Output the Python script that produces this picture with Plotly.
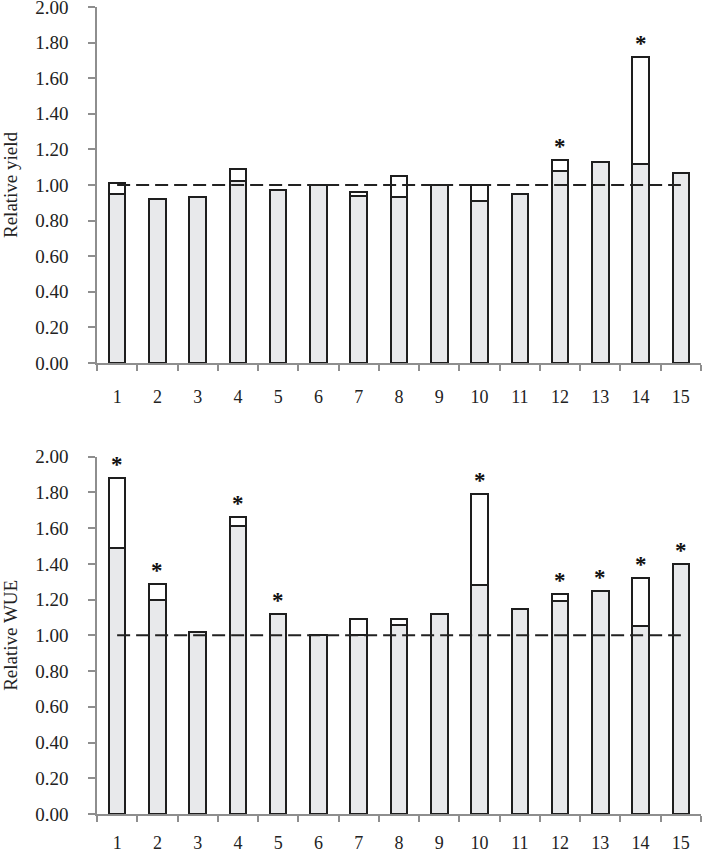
import plotly.graph_objects as go
from plotly.subplots import make_subplots

# lines/categories on the x axis
categories = ["1", "2", "3", "4", "5", "6", "7", "8", "9", "10", "11", "12", "13", "14", "15"]

# relative yield: grey part (base) and total height incl. white part (top)
yield_base = [0.95, 0.92, 0.93, 1.02, 0.97, 1.00, 0.94, 0.93, 1.00, 0.91, 0.95, 1.08, 1.13, 1.12, 1.07]
yield_top = [1.01, 0.92, 0.93, 1.09, 0.97, 1.00, 0.96, 1.05, 1.00, 1.00, 0.95, 1.14, 1.13, 1.72, 1.07]
yield_sig = ["12", "14"]

# relative WUE
wue_base = [1.49, 1.20, 1.02, 1.61, 1.12, 1.00, 1.00, 1.06, 1.12, 1.28, 1.15, 1.19, 1.25, 1.05, 1.40]
wue_top = [1.88, 1.29, 1.02, 1.66, 1.12, 1.00, 1.09, 1.09, 1.12, 1.79, 1.15, 1.23, 1.25, 1.32, 1.40]
wue_sig = ["1", "2", "4", "5", "10", "12", "13", "14", "15"]

reference_level = 1.0
y_ticks = [0.0, 0.2, 0.4, 0.6, 0.8, 1.0, 1.2, 1.4, 1.6, 1.8, 2.0]

FONT = "Liberation Serif, Times New Roman, serif"
GREY = "#e8e9eb"
EDGE = "#1e1e1e"
AXIS = "#8e8e8e"

fig = make_subplots(rows=2, cols=1)


def add_panel(row, base, top, sig):
    extra = [round(t - b, 3) for t, b in zip(top, base)]
    fig.add_trace(
        go.Bar(x=categories, y=base, width=0.41, marker=dict(color=GREY, line=dict(color=EDGE, width=2))),
        row=row, col=1,
    )
    fig.add_trace(
        go.Bar(x=categories, y=extra, width=0.41, marker=dict(color="white", line=dict(color=EDGE, width=2))),
        row=row, col=1,
    )
    fig.add_trace(
        go.Scatter(
            x=[categories[0], categories[-1]],
            y=[reference_level, reference_level],
            mode="lines",
            line=dict(color="#222222", width=2, dash="13px,6px"),
        ),
        row=row, col=1,
    )
    xref = "x" if row == 1 else "x2"
    yref = "y" if row == 1 else "y2"
    for c in sig:
        i = categories.index(c)
        # category position by index, not by label text
        fig.add_annotation(
            x=i, y=top[i], xref=xref, yref=yref, text="<b>*</b>", showarrow=False,
            yanchor="bottom", yshift=-1, font=dict(family=FONT, size=23, color="#111111"),
        )


add_panel(1, yield_base, yield_top, yield_sig)
add_panel(2, wue_base, wue_top, wue_sig)

for ax, standoff in [("xaxis", 17), ("xaxis2", 12)]:
    fig.layout[ax].update(
        type="category", range=[-0.5, 14.5], tickson="boundaries", ticks="outside",
        ticklen=6, tickwidth=1.5, tickcolor=AXIS, showline=True, linecolor=AXIS, linewidth=1.5,
        showgrid=False, zeroline=False, ticklabelstandoff=standoff, automargin=False,
        tickfont=dict(family=FONT, size=18, color="#222222"),
    )
fig.layout.xaxis.domain = [0, 1]
fig.layout.xaxis2.domain = [0, 1]

for ax, title in [("yaxis", "Relative yield"), ("yaxis2", "Relative WUE")]:
    fig.layout[ax].update(
        range=[0, 2.0], tickvals=y_ticks, tickformat=".2f", ticks="outside", ticklen=7,
        tickwidth=1.5, tickcolor=AXIS, showline=True, linecolor=AXIS, linewidth=1.5,
        showgrid=False, zeroline=False, ticklabelstandoff=16, automargin=False,
        ticklabeloverflow="allow",
        tickfont=dict(family=FONT, size=19, color="#222222"),
        title=dict(text=title, font=dict(family=FONT, size=19, color="#222222"), standoff=17),
    )
fig.layout.yaxis.domain = [0.5589, 1.0]
fig.layout.yaxis2.domain = [0.0, 0.4428]

fig.update_layout(
    width=702, height=853, barmode="stack", showlegend=False,
    plot_bgcolor="white", paper_bgcolor="white",
    margin=dict(l=97, r=1, t=7, b=39),
)

# drop the page's default 8px body margin so the figure sits at the window corner
fig.write_html(
    "out.html",
    config={"displayModeBar": False},
    post_script="document.body.style.margin='0';",
)
